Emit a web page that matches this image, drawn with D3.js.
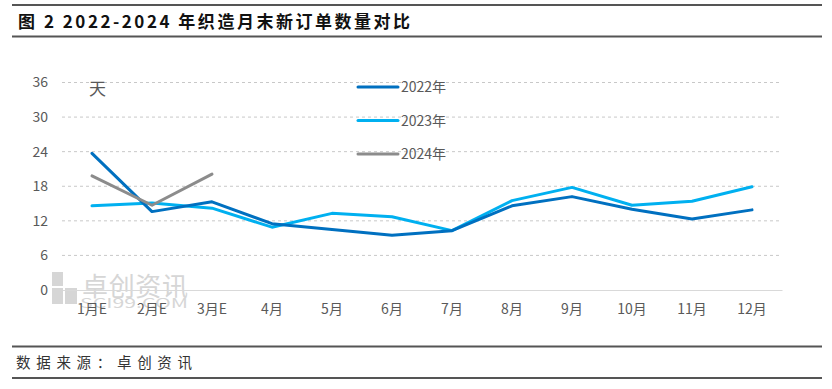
<!DOCTYPE html>
<html>
	<head>
		<meta charset="utf-8">
		<title>织造月末新订单数量对比</title>
		<script src="https://cdn.jsdelivr.net/npm/d3@7"></script>
		<style>
			body{margin:0;background:#fff;}
			text{font-family:"Noto Sans CJK SC","Noto Sans",sans-serif;}
		</style>
	</head>
	<body>
		<div id='viz'></div>
		<script>
			var width = 832,
				height = 389;
			// data
			var months = ['1月E','2月E','3月E','4月','5月','6月','7月','8月','9月','10月','11月','12月'];
			var seriesNames = ['2022年','2023年','2024年'];
			var v2022 = [23.7,13.6,15.3,11.5,10.5,9.5,10.3,14.6,16.2,14.0,12.3,13.9];
			var v2023 = [14.6,15.1,14.2,10.9,13.3,12.7,10.3,15.5,17.8,14.7,15.4,17.9];
			var v2024 = [19.8,14.7,20.1];
			var yTicks = [0,6,12,18,24,30,36];
			var colorList = ['#0070C0','#00B0F0','#8C8C8C'];

			var svg = d3.select('#viz')
				.append('svg')
				.attr('width', width)
				.attr('height', height);

			// frame lines
			[5,36.5,346.5,378].forEach(function(y){
				svg.append('line')
					.attr('x1',12).attr('x2',822)
					.attr('y1',y).attr('y2',y)
					.attr('stroke','#555').attr('stroke-width',2);
			});
			svg.append('text')
				.attr('x',18).attr('y',28)
				.attr('font-size',17).attr('font-weight','bold').attr('fill','#111')
				.attr('textLength',392).attr('lengthAdjust','spacing')
				.text('图 2 2022-2024 年织造月末新订单数量对比');
			svg.append('text')
				.attr('x',16).attr('y',368)
				.attr('font-size',14.5).attr('fill','#333')
				.attr('textLength',176).attr('lengthAdjust','spacing')
				.text('数据来源：卓创资讯');

			var x = d3.scaleBand().domain(months).range([62,782]);
			var y = d3.scaleLinear().domain([0,36]).range([290,82.5]);

			// watermark
			var wm = svg.append('g').attr('fill','#d6d6d6');
			wm.append('rect').attr('x',52).attr('y',272).attr('width',11).attr('height',14);
			wm.append('rect').attr('x',52).attr('y',288).attr('width',11).attr('height',16);
			wm.append('rect').attr('x',65).attr('y',288).attr('width',12).attr('height',16);
			wm.append('text').attr('x',82).attr('y',296).attr('font-size',26)
				.attr('textLength',106).attr('lengthAdjust','spacing').text('卓创资讯');
			wm.append('text').attr('x',80).attr('y',308).attr('font-size',13)
				.attr('font-family','"Liberation Serif",serif')
				.attr('textLength',108).attr('lengthAdjust','spacingAndGlyphs').text('SCI99.COM');

			// grid
			svg.append('g')
				.selectAll('line')
				.data(yTicks.filter(d=>d>0))
				.join('line')
				.attr('x1',62).attr('x2',782)
				.attr('y1',d=>y(d)).attr('y2',d=>y(d))
				.attr('stroke','#c8c8c8').attr('stroke-dasharray','3,3');

			var yAxis = svg.append('g')
				.attr('transform','translate(62,0)')
				.call(d3.axisLeft(y).tickValues(yTicks).tickSize(0).tickPadding(14));
			yAxis.select('.domain').remove();
			yAxis.selectAll('text').attr('font-size',14).attr('fill','#595959')
				.attr('font-family','"Liberation Sans",Arial,sans-serif');

			var xAxis = svg.append('g')
				.attr('transform','translate(0,290)')
				.call(d3.axisBottom(x).tickSize(0).tickPadding(14));
			xAxis.select('.domain').attr('stroke','#d9d9d9');
			xAxis.selectAll('text').attr('font-size',14).attr('fill','#595959');

			svg.append('text')
				.attr('x',89).attr('y',95)
				.attr('font-size',17).attr('fill','#595959')
				.text('天');

			var line = d3.line()
				.x((d,i)=>x(months[i]) + x.bandwidth()/2)
				.y(d=>y(d));
			[v2023,v2022,v2024].forEach(function(s){
				var idx = s===v2022?0:(s===v2023?1:2);
				svg.append('path')
					.datum(s)
					.attr('fill','none')
					.attr('stroke',colorList[idx])
					.attr('stroke-width',3)
					.attr('stroke-linejoin','round')
					.attr('stroke-linecap','round')
					.attr('d',line);
			});

			// legend
			var lg = svg.append('g')
				.selectAll('g')
				.data(seriesNames)
				.join('g')
				.attr('transform',(d,i)=>`translate(358,${87+i*33.5})`);
			lg.append('line')
				.attr('x1',0).attr('x2',40)
				.attr('stroke',(d,i)=>colorList[i])
				.attr('stroke-width',3).attr('stroke-linecap','round');
			lg.append('text')
				.attr('x',43).attr('y',5)
				.attr('font-size',14).attr('fill','#595959')
				.text(d=>d);
		</script>
	</body>
</html>
